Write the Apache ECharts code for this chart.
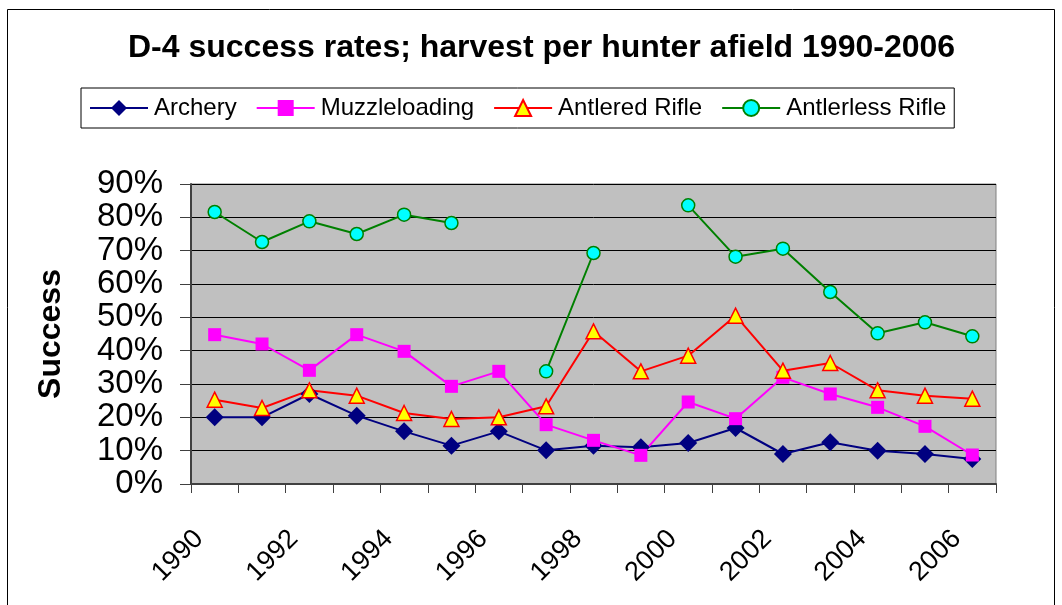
<!DOCTYPE html>
<html>
<head>
<meta charset="utf-8">
<script src="https://cdn.jsdelivr.net/npm/echarts@6/dist/echarts.min.js"></script>
<style>
  html, body { margin: 0; padding: 0; background: #fff; }
  #chart { width: 1062px; height: 605px; }
</style>
</head>
<body>
<div id="chart"></div>
<script>
// 年份
const years = ['1990', '1991', '1992', '1993', '1994', '1995', '1996', '1997', '1998',
  '1999', '2000', '2001', '2002', '2003', '2004', '2005', '2006']

// 成功率 (%)
const archery = [20, 20, 27, 20.5, 15.8, 11.5, 15.8, 10.1, 11.5, 11, 12.3, 16.8, 9, 12.5, 10, 9, 7.5]
const muzzleloading = [44.8, 42, 34.1, 44.8, 39.8, 29.3, 33.8, 17.8, 13.1, 8.6, 24.6, 19.6, 32, 27, 23, 17.3, 8.7]
const antleredRifle = [25.3, 22.8, 28.1, 26.5, 21.3, 19.5, 20, 23.3, 45.8, 33.8, 38.5, 50.5, 34, 36.3, 28.1, 26.5, 25.6]
const antlerlessRifle = [81.6, 72.6, 78.8, 75, 80.8, 78.3, null, 33.8, 69.3, null, 83.6, 68.2, 70.6, 57.6, 45.2, 48.5, 44.3]

const font = "'Liberation Sans', Arial, sans-serif"

const chart = echarts.init(document.getElementById('chart'))

const makeSeries = (name, data, symbol, size, color, fill, border) => ({
  name,
  type: 'line',
  data,
  symbol,
  symbolSize: size,
  showAllSymbol: true,
  connectNulls: false,
  lineStyle: { color, width: 2 },
  itemStyle: { color: fill, borderColor: border, borderWidth: border === fill ? 0 : 1.5 },
  emphasis: { disabled: true },
  animation: false
})

chart.setOption({
  backgroundColor: '#fff',
  animation: false,
  graphic: [{
    type: 'rect',
    shape: { x: 7.5, y: 9.5, width: 1047, height: 620 },
    style: { fill: 'none', stroke: '#000', lineWidth: 1 },
    silent: true
  }],
  title: {
    text: 'D-4 success rates; harvest per hunter afield 1990-2006',
    left: 128,
    top: 32,
    padding: 0,
    textStyle: { fontFamily: font, fontSize: 32, fontWeight: 'bold', color: '#000' }
  },
  legend: {
    left: 81,
    top: 88,
    padding: [8, 8, 8, 8],
    itemGap: 19,
    itemWidth: 58,
    itemHeight: 20,
    borderColor: '#000',
    borderWidth: 1,
    textStyle: { fontFamily: font, fontSize: 24, color: '#000', padding: [0, 0, 0, 1] },
    data: ['Archery', 'Muzzleloading', 'Antlered Rifle', 'Antlerless Rifle']
  },
  grid: {
    left: 191,
    right: 66,
    top: 184,
    bottom: 121,
    show: true,
    backgroundColor: '#c0c0c0',
    borderColor: '#808080',
    borderWidth: 1
  },
  xAxis: {
    type: 'category',
    data: years,
    boundaryGap: true,
    axisLine: { lineStyle: { color: '#404040', width: 2 } },
    axisTick: { show: true, interval: 0, length: 9, lineStyle: { color: '#404040', width: 1 } },
    axisLabel: {
      interval: 1,
      rotate: 45,
      margin: 35,
      padding: [0, 22, 0, 0],
      fontFamily: font,
      fontSize: 27,
      color: '#000'
    },
    splitLine: { show: false }
  },
  yAxis: {
    type: 'value',
    min: 0,
    max: 90,
    interval: 10,
    name: 'Success',
    nameLocation: 'middle',
    nameRotate: 90,
    nameGap: 124,
    nameTextStyle: { fontFamily: font, fontSize: 32, fontWeight: 'bold', color: '#000' },
    axisLine: { show: true, lineStyle: { color: '#404040', width: 2 } },
    axisTick: { show: true, length: 11, lineStyle: { color: '#404040', width: 1 } },
    axisLabel: {
      formatter: '{value}%',
      margin: 28,
      showMinLabel: true,
      showMaxLabel: true,
      hideOverlap: false,
      fontFamily: font,
      fontSize: 33,
      lineHeight: 22,
      color: '#000'
    },
    splitLine: { show: true, lineStyle: { color: '#000', width: 1 } }
  },
  series: [
    makeSeries('Archery', archery, 'diamond', 18, '#000080', '#000080', '#000080'),
    makeSeries('Muzzleloading', muzzleloading, 'rect', 13, '#ff00ff', '#ff00ff', '#ff00ff'),
    makeSeries('Antlered Rifle', antleredRifle, 'triangle', 15, '#ff0000', '#ffff00', '#ff0000'),
    makeSeries('Antlerless Rifle', antlerlessRifle, 'circle', 13, '#008000', '#00ffff', '#008000')
  ]
})
</script>
</body>
</html>
